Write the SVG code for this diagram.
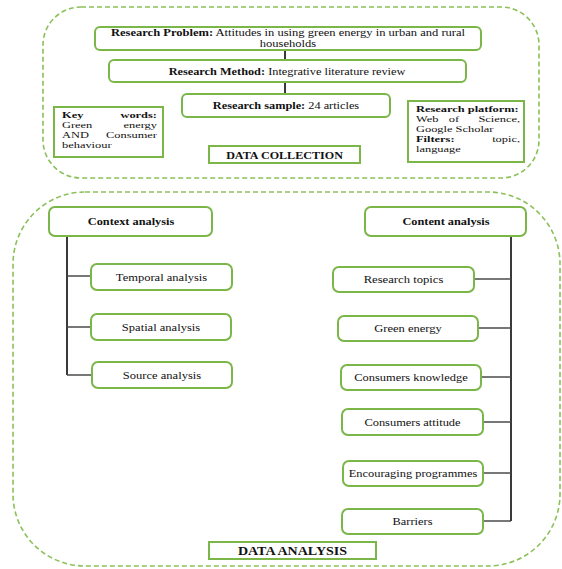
<svg xmlns="http://www.w3.org/2000/svg" width="562" height="569" viewBox="0 0 562 569" font-family="'Liberation Serif', 'Times New Roman', serif">
<style>
.cont{fill:none;stroke:#8cc05a;stroke-width:1.6;stroke-dasharray:5 3}
.node{fill:#fff;stroke:#7ab648;stroke-width:2}
.conn{fill:none;stroke:#4a4a4a;stroke-width:1.5}
.main{fill:none;stroke:#3a3a3a;stroke-width:2}
text{font-family:'Liberation Serif', 'Times New Roman', serif;fill:#111;font-size:11px;text-anchor:middle}
.s{font-size:9px;text-anchor:start}
.m{font-size:9.5px}
.e{text-anchor:end}
.mid{text-anchor:middle}
.b{font-weight:bold}
</style>
<rect width="562" height="569" fill="#fff"/>
<g id="containers">
<rect class="cont" x="43" y="7" width="496" height="171" rx="38"/>
<rect class="cont" x="13" y="192" width="547" height="374" rx="72"/>
</g>
<g id="connectors">
<line class="main" x1="285" y1="50" x2="285" y2="60"/>
<line class="main" x1="285" y1="82" x2="285" y2="94"/>
<line class="main" x1="67" y1="236" x2="67" y2="375"/>
<line class="conn" x1="67" y1="276" x2="91" y2="276"/>
<line class="conn" x1="67" y1="327" x2="91" y2="327"/>
<line class="conn" x1="67" y1="375" x2="92" y2="375"/>
<line class="main" x1="511" y1="236" x2="511" y2="521"/>
<line class="conn" x1="474" y1="279" x2="511" y2="279"/>
<line class="conn" x1="478" y1="328" x2="511" y2="328"/>
<line class="conn" x1="481" y1="377" x2="511" y2="377"/>
<line class="conn" x1="483" y1="422" x2="511" y2="422"/>
<line class="conn" x1="483" y1="473" x2="511" y2="473"/>
<line class="conn" x1="483" y1="521" x2="511" y2="521"/>
</g>
<g id="problem">
<rect class="node" x="95" y="27" width="386" height="23" rx="5"/>
<g transform="translate(288 0) scale(1.32 1)">
<text class="m" x="0" y="36.3"><tspan class="b">Research Problem:</tspan> Attitudes in using green energy in urban and rural</text>
<text class="m" x="0" y="46.8">households</text>
</g>
</g>
<g id="method">
<rect class="node" x="109" y="60" width="357" height="22" rx="5"/>
<text transform="translate(287 74.5) scale(1.12 1)"><tspan class="b">Research Method:</tspan> Integrative  literature review</text>
</g>
<g id="sample">
<rect class="node" x="182" y="94" width="208" height="23" rx="5"/>
<text transform="translate(286 109) scale(1.12 1)"><tspan class="b">Research sample:</tspan> 24 articles</text>
</g>
<g id="keywords">
<rect class="node" x="54" y="107" width="109" height="50" rx="0"/>
<g transform="translate(62 0) scale(1.38 1)">
<text class="s b" x="0" y="118.5">Key</text><text class="s b e" x="68.8" y="118.5">words:</text>
<text class="s" x="0" y="128.5">Green</text><text class="s e" x="68.8" y="128.5">energy</text>
<text class="s" x="0" y="138.5">AND</text><text class="s e" x="68.8" y="138.5">Consumer</text>
<text class="s" x="0" y="148.5">behaviour</text>
</g>
</g>
<g id="collection">
<rect class="node" x="209" y="146" width="151" height="17" rx="0"/>
<text class="b" transform="translate(284.5 158.5) scale(1.1 1)">DATA COLLECTION</text>
</g>
<g id="platform">
<rect class="node" x="408" y="101" width="116" height="61" rx="0"/>
<g transform="translate(416 0) scale(1.38 1)">
<text class="s b" x="0" y="112">Research platform:</text>
<text class="s" x="0" y="122">Web</text><text class="s mid" x="27.5" y="122">of</text><text class="s e" x="75.4" y="122">Science,</text>
<text class="s" x="0" y="132">Google Scholar</text>
<text class="s b" x="0" y="142">Filters:</text><text class="s e" x="75.4" y="142">topic,</text>
<text class="s" x="0" y="152">language</text>
</g>
</g>
<g id="context">
<rect class="node" x="49" y="207" width="163" height="29" rx="6"/>
<text class="b" transform="translate(131 225) scale(1.12 1)">Context analysis</text>
</g>
<g id="temporal">
<rect class="node" x="91" y="264" width="141" height="26" rx="6"/>
<text transform="translate(161.5 280.5) scale(1.14 1)">Temporal analysis</text>
</g>
<g id="spatial">
<rect class="node" x="91" y="314" width="140" height="26" rx="6"/>
<text transform="translate(161 330.5) scale(1.14 1)">Spatial analysis</text>
</g>
<g id="source">
<rect class="node" x="92" y="362" width="140" height="26" rx="6"/>
<text transform="translate(162 378.5) scale(1.14 1)">Source analysis</text>
</g>
<g id="content">
<rect class="node" x="365" y="207" width="161" height="29" rx="6"/>
<text class="b" transform="translate(446 225) scale(1.12 1)">Content analysis</text>
</g>
<g id="topics">
<rect class="node" x="333" y="267" width="141" height="25" rx="6"/>
<text transform="translate(403.5 283) scale(1.15 1)">Research topics</text>
</g>
<g id="green">
<rect class="node" x="338" y="316" width="140" height="25" rx="6"/>
<text transform="translate(408 332) scale(1.14 1)">Green energy</text>
</g>
<g id="knowledge">
<rect class="node" x="341" y="365" width="140" height="25" rx="6"/>
<text transform="translate(411 381) scale(1.13 1)">Consumers knowledge</text>
</g>
<g id="attitude">
<rect class="node" x="342" y="409" width="141" height="26" rx="6"/>
<text transform="translate(412.5 425.5) scale(1.13 1)">Consumers attitude</text>
</g>
<g id="programmes">
<rect class="node" x="343" y="461" width="140" height="25" rx="6"/>
<text transform="translate(413 477) scale(1.13 1)">Encouraging programmes</text>
</g>
<g id="barriers">
<rect class="node" x="342" y="509" width="141" height="25" rx="6"/>
<text transform="translate(412.5 525) scale(1.13 1)">Barriers</text>
</g>
<g id="analysis">
<rect class="node" x="209" y="542" width="167" height="17" rx="0"/>
<text class="b" transform="translate(292.5 555) scale(1.22 1)" style="font-size:11.5px">DATA ANALYSIS</text>
</g>
</svg>
